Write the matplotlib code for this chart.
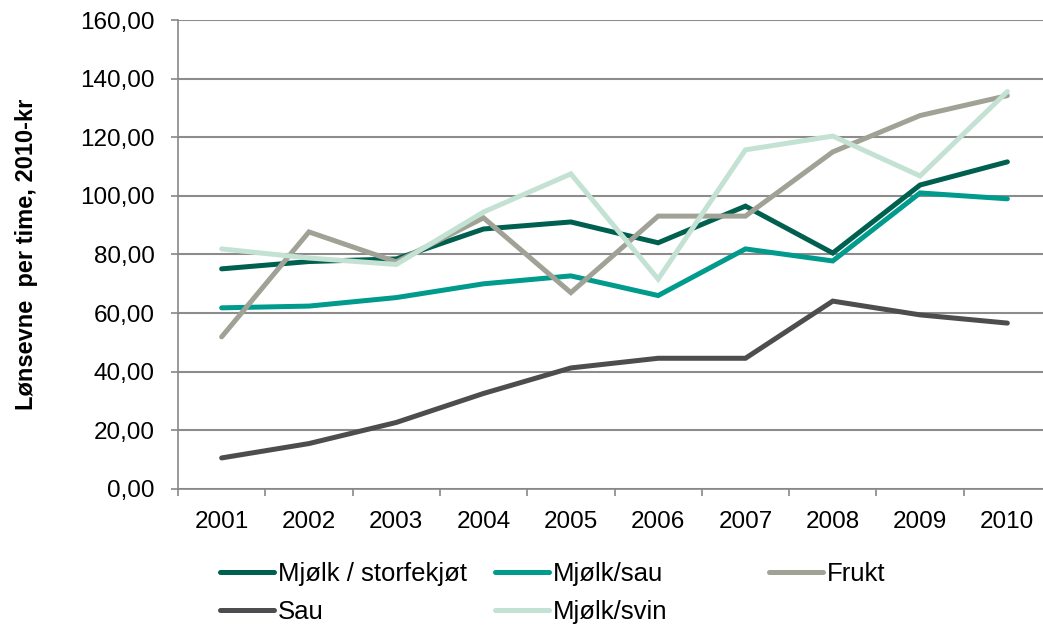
import numpy as np
import matplotlib.pyplot as plt

plt.rcParams['font.family'] = ['Liberation Sans', 'DejaVu Sans']

years = ['2001', '2002', '2003', '2004', '2005', '2006', '2007', '2008', '2009', '2010']
storfe = [75.1, 77.6, 78.5, 88.7, 91.1, 84.0, 96.5, 80.5, 103.7, 111.6]
mjolk_sau = [61.8, 62.4, 65.3, 70.0, 72.7, 66.0, 81.9, 77.8, 101.0, 99.0]
frukt = [51.9, 87.7, 77.5, 92.5, 67.0, 93.1, 93.1, 115.0, 127.4, 134.2]
sau = [10.6, 15.5, 22.7, 32.6, 41.3, 44.6, 44.6, 64.1, 59.4, 56.6]
svin = [81.9, 78.8, 76.6, 94.5, 107.5, 71.6, 115.7, 120.4, 106.8, 135.6]

series = [
    ('Mjølk / storfekjøt', storfe, '#00604f'),
    ('Sau', sau, '#4d4d4f'),
    ('Mjølk/sau', mjolk_sau, '#009b8c'),
    ('Mjølk/svin', svin, '#c4e2d4'),
    ('Frukt', frukt, '#a0a296'),
]
draw_order = [0, 2, 4, 1, 3]

fig = plt.figure(figsize=(10.43, 6.3), dpi=100)
ax = fig.add_axes([178/1043, 141/630, 873/1043, 469/630])
x = np.arange(len(years))
lines = {}
for i in draw_order:
    name, vals, col = series[i]
    ln, = ax.plot(x, vals, color=col, lw=3.6, solid_capstyle='round', solid_joinstyle='miter', label=name)
    lines[i] = ln

ax.set_xlim(-0.5, 9.5)
ax.set_ylim(0, 160)
ax.set_yticks(np.arange(0, 161, 20))
ax.set_yticklabels([f'{v:.2f}'.replace('.', ',') for v in range(0, 161, 20)], fontsize=17.5)
ax.set_xticks(x)
ax.set_xticklabels(years, fontsize=17.5)
ax.set_xticks(np.arange(-0.5, 10, 1), minor=True)
ax.tick_params(axis='x', which='major', length=0, pad=15.5)
ax.tick_params(axis='x', which='minor', length=5, color='#888888', width=1.2)
ax.tick_params(axis='y', length=5, color='#888888', width=1.2, pad=12)
ax.grid(axis='y', color='#8c8c8c', lw=1.5)
ax.set_axisbelow(True)
for s in ['top', 'right']:
    ax.spines[s].set_visible(False)
for s in ['left', 'bottom']:
    ax.spines[s].set_color('#888888')
    ax.spines[s].set_linewidth(1.2)
ax.set_ylabel('Lønsevne  per time, 2010-kr', fontsize=17, fontweight='bold', labelpad=30)

cols = [[0, 1], [2, 3], [4]]
xs = [207/1043, 482/1043, 756/1043]
for cx, idx in zip(xs, cols):
    fig.legend([lines[i] for i in idx], [series[i][0] for i in idx], loc='upper left',
               bbox_to_anchor=(cx, 81/630), frameon=False, fontsize=18.5,
               handlelength=2.1, handletextpad=0.15, labelspacing=0.55, borderpad=0)

fig.savefig('out.png', dpi=100)
